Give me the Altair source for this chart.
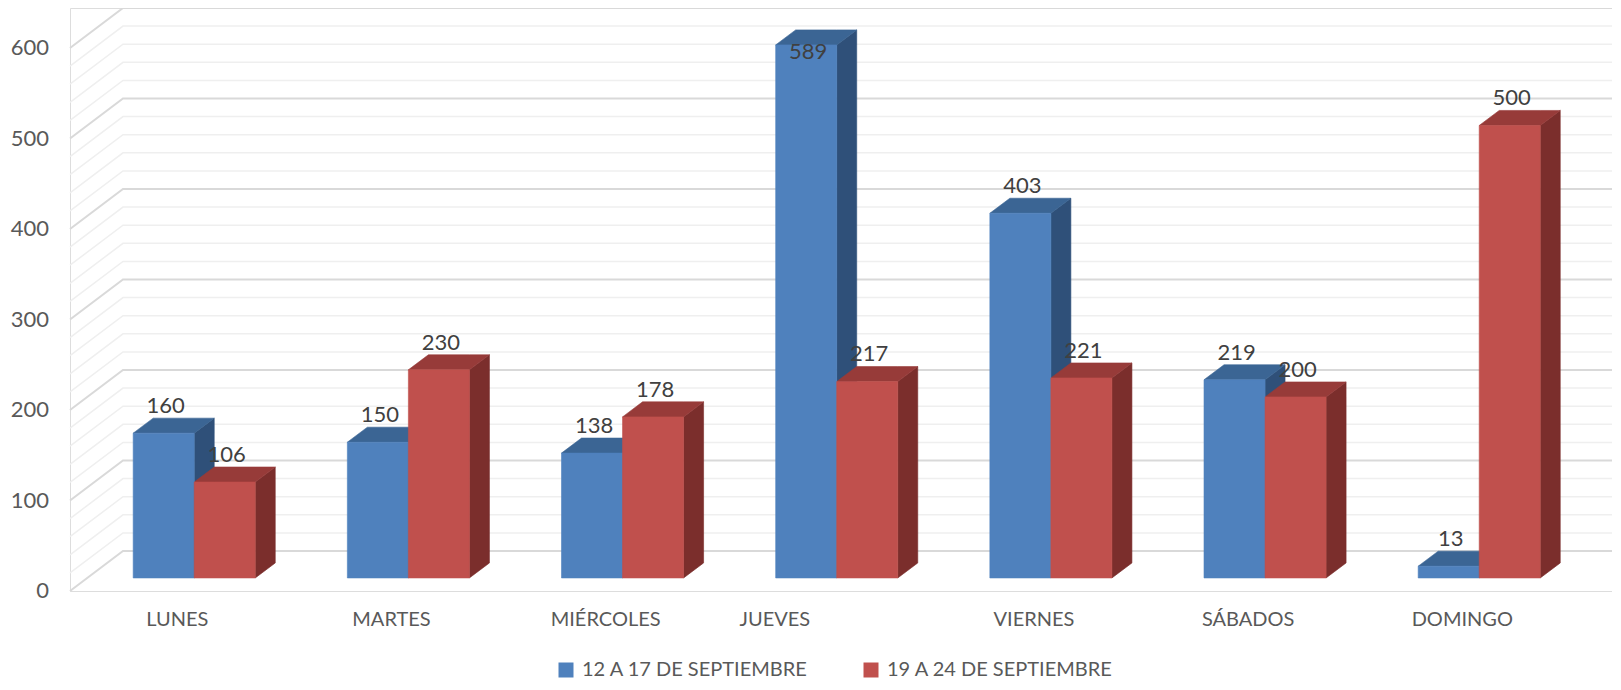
import altair as alt
import pandas as pd

# ---------------- data ----------------
days = ["LUNES", "MARTES", "MIÉRCOLES", "JUEVES", "VIERNES", "SÁBADOS", "DOMINGO"]
series_names = ["12 A 17 DE SEPTIEMBRE", "19 A 24 DE SEPTIEMBRE"]
week1 = [160, 150, 138, 589, 403, 219, 13]
week2 = [106, 230, 178, 217, 221, 200, 500]
y_ticks = [0, 100, 200, 300, 400, 500, 600]
grid_step = 20

front_colors = ["#4F81BD", "#C0504D"]
top_colors = ["#3B6594", "#973B39"]
side_colors = ["#2F5079", "#7B2E2C"]

# ---------------- 3D projection constants ----------------
BAR_W = 0.285          # bar width in category units
DEPTH_X = 0.0934       # bar depth projected on x (category units)
DEPTH_Y = 16.6         # bar depth projected on y (value units)
WALL_FRONT_X = -0.58
WALL_BACK_X = -0.3326
WALL_FRONT_Y = -14.4
WALL_BACK_Y = 29.8
X_MIN, X_MAX = -0.58, 6.62
Y_MIN, Y_MAX = -14.4, 629.8
LABEL_SHIFT_X = -0.079

xs = alt.Scale(domain=[X_MIN, X_MAX], nice=False, zero=False)
ys = alt.Scale(domain=[Y_MIN, Y_MAX], nice=False, zero=False)

fronts, tops, sides, labels = [], [], [], []
for s, (name, vals) in enumerate(zip(series_names, [week1, week2])):
    for i, (d, v) in enumerate(zip(days, vals)):
        x0 = i - BAR_W if s == 0 else i
        x1 = x0 + BAR_W
        fronts.append(dict(series=name, s=s, x0=x0, x1=x1, y0=0, v=v))
        pid = f"{s}-{i}"
        for px, py, py2 in [(x0, v, v), (x0 + DEPTH_X, v, v + DEPTH_Y),
                            (x1, v, v + DEPTH_Y), (x1 + DEPTH_X, v + DEPTH_Y, v + DEPTH_Y)]:
            tops.append(dict(s=s, poly=pid, x=px, y=py, y2=py2))
        for px, py, py2 in [(x1, 0, v), (x1 + DEPTH_X, DEPTH_Y, v + DEPTH_Y)]:
            sides.append(dict(s=s, poly=pid, x=px, y=py, y2=py2))
        ly = v + 30 if v + 30 < 610 else v - 8
        labels.append(dict(x=(x0 + x1) / 2, y=ly, t=str(v)))

fronts = pd.DataFrame(fronts)
tops = pd.DataFrame(tops)
sides = pd.DataFrame(sides)
labels = pd.DataFrame(labels)

grid = []
for g in range(0, y_ticks[-1] + 1, grid_step):
    major = g % 100 == 0
    for px, py in [(WALL_FRONT_X, g + WALL_FRONT_Y), (WALL_BACK_X, g + WALL_BACK_Y), (X_MAX, g + WALL_BACK_Y)]:
        grid.append(dict(g=g, major=major, x=px, y=py))
grid = pd.DataFrame(grid)

ylab = pd.DataFrame(dict(v=y_ticks, y=[t + WALL_FRONT_Y for t in y_ticks], x=WALL_FRONT_X))
xlab = pd.DataFrame(dict(d=days, x=[i + LABEL_SHIFT_X for i in range(len(days))], y=WALL_FRONT_Y))

FONT = "Lato"

minor_grid = alt.Chart(grid[~grid.major]).mark_line(color="#EFEFEF", strokeWidth=1.5).encode(
    x=alt.X("x:Q", scale=xs, axis=None), y=alt.Y("y:Q", scale=ys, axis=None), detail="g:N")
major_grid = alt.Chart(grid[grid.major]).mark_line(color="#D9D9D9", strokeWidth=2).encode(
    x=alt.X("x:Q", scale=xs, axis=None), y=alt.Y("y:Q", scale=ys, axis=None), detail="g:N")


def faces(df, color):
    return alt.Chart(df).mark_area(orient="vertical", color=color, stroke=color, strokeWidth=0.6).encode(
        x=alt.X("x:Q", scale=xs, axis=None),
        y=alt.Y("y:Q", scale=ys, axis=None, stack=None),
        y2="y2:Q",
        detail="poly:N",
    )


layers = [minor_grid, major_grid]
for s in range(2):
    layers.append(faces(sides[sides.s == s], side_colors[s]))
    layers.append(faces(tops[tops.s == s], top_colors[s]))

front = alt.Chart(fronts).mark_bar(strokeWidth=0.6).encode(
    x=alt.X("x0:Q", scale=xs, axis=None), x2="x1:Q",
    y=alt.Y("v:Q", scale=ys, axis=None, stack=None), y2="y0:Q",
    color=alt.Color("series:N", scale=alt.Scale(domain=series_names, range=front_colors),
                    legend=alt.Legend(orient="none", legendX=486, legendY=652, direction="horizontal",
                                      title=None, symbolType="square", symbolSize=225,
                                      symbolStrokeWidth=0, labelFont=FONT, labelFontSize=20,
                                      labelColor="#595959", columnPadding=52, labelOffset=6,
                                      labelLimit=0, padding=0)),
    stroke=alt.Color("series:N", scale=alt.Scale(domain=series_names, range=front_colors), legend=None),
)
layers.append(front)

data_labels = alt.Chart(labels).mark_text(font=FONT, fontSize=22, color="#404040", baseline="middle", dx=2).encode(
    x=alt.X("x:Q", scale=xs, axis=None), y=alt.Y("y:Q", scale=ys, axis=None), text="t:N")
y_labels = alt.Chart(ylab).mark_text(font=FONT, fontSize=22, color="#595959", baseline="middle", align="right", dx=-21).encode(
    x=alt.X("x:Q", scale=xs, axis=None), y=alt.Y("y:Q", scale=ys, axis=None), text="v:N")
x_labels = alt.Chart(xlab).transform_filter(alt.datum.d != "JUEVES").mark_text(
    font=FONT, fontSize=20, color="#595959", baseline="middle", align="center", dy=29).encode(
    x=alt.X("x:Q", scale=xs, axis=None), y=alt.Y("y:Q", scale=ys, axis=None), text="d:N")
# the JUEVES category label sits further left in the original (padded label)
x_label_jueves = alt.Chart(xlab).transform_filter(alt.datum.d == "JUEVES").mark_text(
    font=FONT, fontSize=20, color="#595959", baseline="middle", align="center", dy=29, dx=-45).encode(
    x=alt.X("x:Q", scale=xs, axis=None), y=alt.Y("y:Q", scale=ys, axis=None), text="d:N")
layers += [data_labels, y_labels, x_labels, x_label_jueves]

chart = alt.layer(*layers).properties(
    width=1542, height=583,
    autosize=alt.AutoSizeParams(type="none"),
    padding={"left": 62, "top": 0, "right": 0, "bottom": 90},
).configure_view(stroke=None).configure(background="white")

chart.save("out.html", embed_options={"renderer": "svg", "actions": False})
